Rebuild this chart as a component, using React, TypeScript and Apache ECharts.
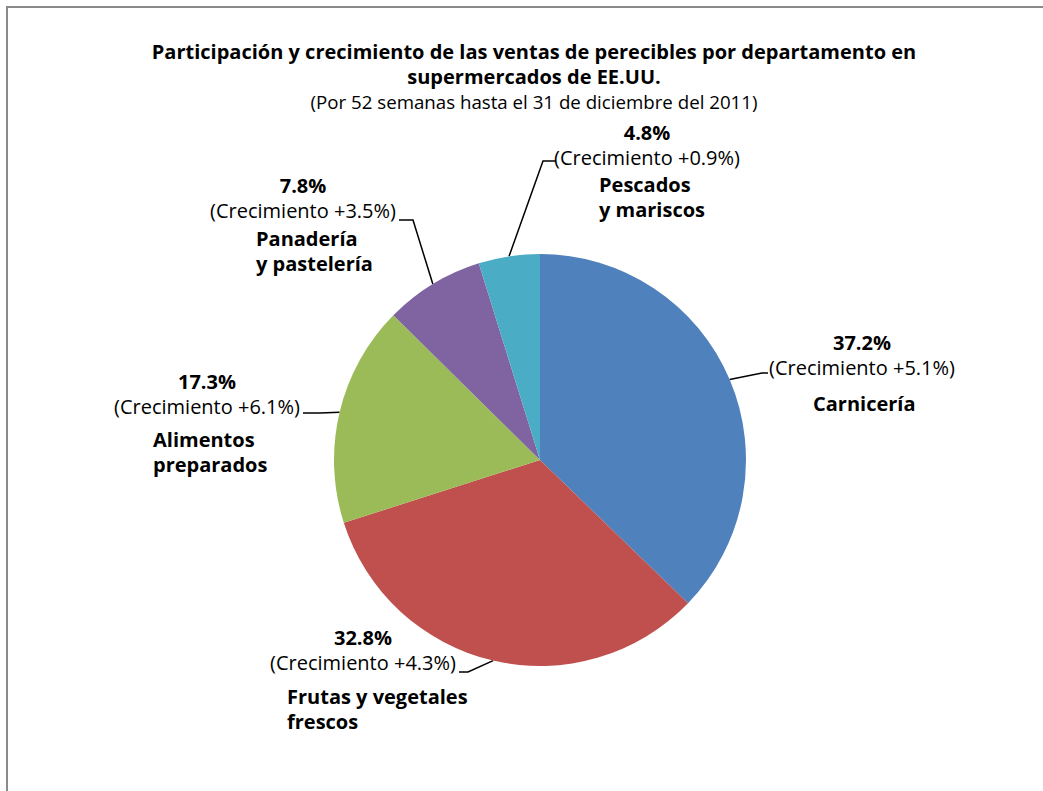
import React, { useEffect, useRef } from "react";
import * as echarts from "echarts";

// ---- data ----
const CATEGORIES = [
  "Carnicería",
  "Frutas y vegetales\nfrescos",
  "Alimentos\npreparados",
  "Panadería\ny pastelería",
  "Pescados\ny mariscos",
];
const SHARE = [37.2, 32.8, 17.3, 7.8, 4.8];
const GROWTH = [5.1, 4.3, 6.1, 3.5, 0.9];
const COLORS = ["#4F81BD", "#C0504D", "#9BBB59", "#8064A2", "#4BACC6"];
const TITLE = "Participación y crecimiento de las ventas de perecibles por departamento en\nsupermercados de EE.UU.";
const SUBTITLE = "(Por 52 semanas hasta el 31 de diciembre del 2011)";

// ---- layout ----
const FONT = "'Open Sans', 'Noto Sans', sans-serif";
const CENTER: [number, number] = [540, 460];
const RADIUS = 206;
// centre of the "share + growth" label block
const VALUE_LABEL_POS = [
  [862, 355],
  [363, 650],
  [207, 394],
  [303, 198],
  [647, 145],
];
// left edge / first-line centre of the name label
const NAME_LABEL_POS = [
  [813, 403],
  [287, 696],
  [153, 439],
  [256, 238],
  [599, 184],
];
const LEADER_ELBOW = [
  [762, 373],
  [468, 672],
  [320, 413],
  [413, 220],
  [543, 161],
];
const LEADER_END = [
  [768, 373],
  [459, 672],
  [303, 413],
  [399, 220],
  [556, 161],
];

function sliceEdgePoint(i: number): number[] {
  const total = SHARE.reduce((a, b) => a + b, 0);
  let before = 0;
  for (let k = 0; k < i; k++) before += SHARE[k];
  const mid = ((before + SHARE[i] / 2) / total) * Math.PI * 2;
  return [CENTER[0] + RADIUS * Math.sin(mid), CENTER[1] - RADIUS * Math.cos(mid)];
}

export default function App() {
  const ref = useRef<HTMLDivElement>(null);
  useEffect(() => {
    if (!ref.current) return;
    const chart = echarts.init(ref.current, undefined, { renderer: "svg" });
    const data = CATEGORIES.map((name, i) => ({
      name,
      value: SHARE[i],
      itemStyle: { color: COLORS[i] },
    }));
    chart.setOption({
      animation: false,
      backgroundColor: "#ffffff",
      textStyle: { fontFamily: FONT },
      title: {
        text: TITLE,
        subtext: SUBTITLE,
        left: 534,
        top: 39,
        textAlign: "center",
        padding: 0,
        itemGap: 0,
        textStyle: {
          fontFamily: FONT,
          fontSize: 20,
          fontWeight: "bold",
          color: "#000",
          lineHeight: 25,
        },
        subtextStyle: {
          fontFamily: FONT,
          fontSize: 18.7,
          color: "#000",
          lineHeight: 24,
        },
      },
      graphic: [
        {
          type: "rect",
          silent: true,
          shape: { x: 7, y: 7, width: 1100, height: 900 },
          style: { fill: "none", stroke: "#8a8a8a", lineWidth: 2 },
        },
      ],
      series: [
        {
          type: "pie",
          center: CENTER,
          radius: RADIUS,
          startAngle: 90,
          clockwise: true,
          data,
          itemStyle: { borderWidth: 0 },
          emphasis: { disabled: true },
          label: {
            show: true,
            position: "outside",
            fontFamily: FONT,
            color: "#000",
            formatter: (p: any) =>
              `{p|${SHARE[p.dataIndex].toFixed(1)}%}\n{c|(Crecimiento +${GROWTH[p.dataIndex].toFixed(1)}%)}`,
            rich: {
              p: { fontFamily: FONT, fontSize: 20, fontWeight: "bold", lineHeight: 25, color: "#000", align: "center" },
              c: { fontFamily: FONT, fontSize: 20, lineHeight: 25, color: "#000", align: "center" },
            },
          },
          labelLine: {
            show: true,
            lineStyle: { color: "#000", width: 1.5 },
          },
          labelLayout: (params: any) => {
            const i = params.dataIndex;
            const start =
              params.labelLinePoints && params.labelLinePoints[0]
                ? params.labelLinePoints[0]
                : sliceEdgePoint(i);
            return {
              x: VALUE_LABEL_POS[i][0],
              y: VALUE_LABEL_POS[i][1],
              align: "center",
              verticalAlign: "middle",
              hideOverlap: false,
              labelLinePoints: [start, LEADER_ELBOW[i], LEADER_END[i]],
            };
          },
        },
        {
          type: "pie",
          center: CENTER,
          radius: RADIUS,
          startAngle: 90,
          clockwise: true,
          silent: true,
          data: CATEGORIES.map((name, i) => ({ name, value: SHARE[i] })),
          itemStyle: { color: "rgba(0,0,0,0)", borderWidth: 0 },
          emphasis: { disabled: true },
          label: {
            show: true,
            position: "outside",
            fontFamily: FONT,
            fontSize: 20,
            fontWeight: "bold",
            lineHeight: 25,
            color: "#000",
            formatter: (p: any) => p.name,
          },
          labelLine: { show: false },
          labelLayout: (params: any) => {
            const i = params.dataIndex;
            return {
              x: NAME_LABEL_POS[i][0],
              y: NAME_LABEL_POS[i][1] - 12.5,
              align: "left",
              verticalAlign: "top",
              hideOverlap: false,
            };
          },
        },
      ],
    });
    return () => chart.dispose();
  }, []);
  return (
    <div
      ref={ref}
      style={{ position: "absolute", left: 0, top: 0, width: 1043, height: 791 }}
    />
  );
}
